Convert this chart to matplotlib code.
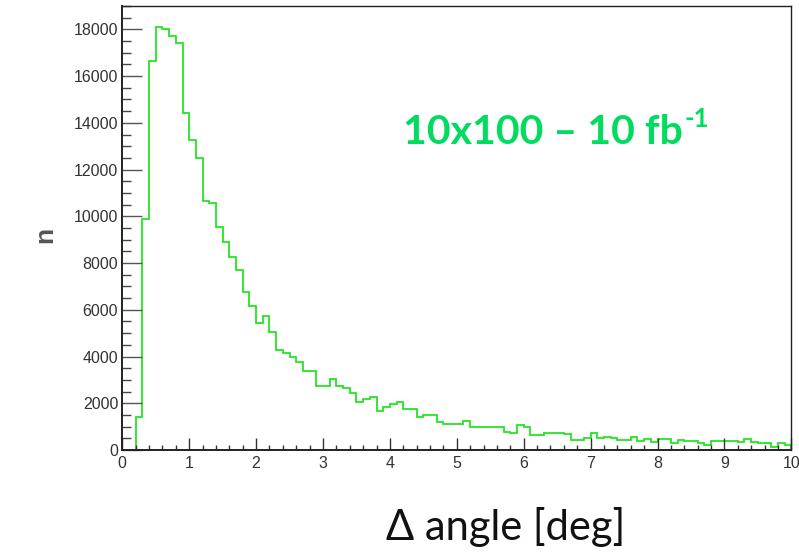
import numpy as np
import matplotlib
matplotlib.use("Agg")
import matplotlib.pyplot as plt
from matplotlib.ticker import MultipleLocator

# ---- data (counts per 0.1 deg bin, 0..10 deg) ----
bin_width = 0.1
x_min, x_max = 0.0, 10.0
counts = [
    0, 0, 1400, 9900, 16650, 18100, 18000, 17700, 17400, 14400,          # 0.0-1.0
    13250, 12500, 10650, 10550, 9550, 8900, 8250, 7700, 6750, 6150,      # 1.0-2.0
    5450, 5750, 5050, 4300, 4150, 3980, 3750, 3400, 3400, 2750,          # 2.0-3.0
    2750, 3030, 2750, 2640, 2430, 2070, 2200, 2250, 1650, 1850,          # 3.0-4.0
    1950, 2050, 1750, 1750, 1420, 1500, 1500, 1200, 1100, 1100,          # 4.0-5.0
    1100, 1230, 1000, 1000, 1000, 1000, 980, 750, 740, 1070,             # 5.0-6.0
    980, 650, 650, 710, 710, 710, 700, 430, 430, 500,                    # 6.0-7.0
    740, 500, 570, 500, 430, 430, 570, 390, 460, 360,                    # 7.0-8.0
    460, 460, 290, 430, 390, 390, 290, 210, 390, 390,                    # 8.0-9.0
    390, 390, 360, 460, 360, 290, 310, 120, 310, 210,                    # 9.0-10.0
]
x_ticks = [0, 1, 2, 3, 4, 5, 6, 7, 8, 9, 10]
y_ticks = [0, 2000, 4000, 6000, 8000, 10000, 12000, 14000, 16000, 18000]
y_max = 19000
x_label = "Δ angle [deg]"
y_label = "n"
annot_main = "10x100 – 10 fb"
annot_sup = "-1"

n_bins = len(counts)
edges = x_min + bin_width * np.arange(n_bins + 1)

fig = plt.figure(figsize=(7.99, 5.52), dpi=100)
ax = fig.add_axes([122.3 / 799, 102 / 552, 669 / 799, 444 / 552])

ax.stairs(counts, edges, color="#22e622", linewidth=1.3, baseline=0)

ax.set_xlim(x_min, x_max)
ax.set_ylim(0, y_max)
ax.set_xticks(x_ticks)
ax.set_yticks(y_ticks)
ax.xaxis.set_minor_locator(MultipleLocator(0.2))
ax.yaxis.set_minor_locator(MultipleLocator(500))

tick_font = {"family": ["Liberation Sans", "DejaVu Sans"], "size": 11.5}
ax.set_xticklabels([str(t) for t in x_ticks], fontdict=tick_font, color="#333333")
ax.set_yticklabels([str(t) for t in y_ticks], fontdict=tick_font, color="#333333")

ax.tick_params(axis="y", which="major", direction="in", length=14.5, width=1.0, color="#555555", pad=3)
ax.tick_params(axis="y", which="minor", direction="in", length=6.5, width=1.0, color="#444444")
ax.tick_params(axis="x", which="major", direction="in", length=8.5, width=1.0, color="#333333", pad=4)
ax.tick_params(axis="x", which="minor", direction="in", length=3.8, width=1.0, color="#333333")
ax.tick_params(top=False, right=False)

for side in ["left", "bottom"]:
    ax.spines[side].set_linewidth(1.4)
    ax.spines[side].set_color("#222222")
for side in ["top", "right"]:
    ax.spines[side].set_linewidth(1.0)
    ax.spines[side].set_color("#222222")

# axis titles
fig.text(45 / 799, 1 - 235 / 552, y_label, rotation=90, ha="center", va="center",
         fontsize=19, fontweight="bold", color="#555555",
         family=["Liberation Sans", "DejaVu Sans"])
fig.text(506 / 799, 1 - 527 / 552, x_label, ha="center", va="center",
         fontsize=30, color="#111111", family=["Lato", "DejaVu Sans"])

# annotation
t = fig.text(403 / 799, 1 - 143.5 / 552, annot_main, ha="left", va="baseline",
             fontsize=29.5, fontweight="bold", color="#00dc5f", family=["Lato", "DejaVu Sans"])
fig.canvas.draw()
bb = t.get_window_extent()
x_sup = bb.x1 / fig.bbox.width + 0.002
fig.text(x_sup, 1 - 127 / 552, annot_sup, ha="left", va="baseline",
         fontsize=18.5, fontweight="bold", color="#00dc5f", family=["Lato", "DejaVu Sans"])

fig.savefig("out.png", dpi=100)
